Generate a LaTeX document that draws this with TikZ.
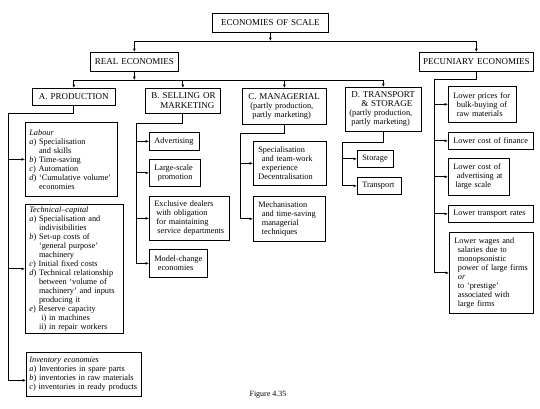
\documentclass[tikz,border=0pt]{standalone}
\usepackage{fontspec}
\setmainfont{Liberation Serif}
\usetikzlibrary{arrows.meta,calc}
\newcommand\bodyfont{\fontsize{8.3}{9}\selectfont}
\newcommand\headfont{\fontsize{9}{10}\selectfont}
\newcommand\myind{\hspace*{3.5pt}}
\newcommand\itm[1]{\textit{#1})\ }
\newcommand\hangsp{\hphantom{\textit{a})\ }}
% #1 options, #2 name, #3 x1, #4 y1, #5 x2, #6 y2, #7 side padding, #8 text
\newcommand\mybox[8][]{%
  \pgfmathsetmacro\bxw{#5-#3}\pgfmathsetmacro\bxh{#6-#4}\pgfmathsetmacro\bxt{#5-#3-2*#7}%
  \node[box,#1,inner xsep=#7pt,minimum width=\bxw pt,minimum height=\bxh pt,text width=\bxt pt] (#2) at (#3,#4) {#8};}
\tikzset{
  box/.style={draw, line width=0.7pt, inner ysep=0pt, anchor=north west, align=left, font=\bodyfont},
  head/.style={font=\headfont, align=center},
  conn/.style={line width=0.8pt},
  arr/.style={conn, -{Latex[length=3.5pt,width=3pt]}}
}
\begin{document}
\begin{tikzpicture}[x=1pt,y=-1pt]
\useasboundingbox (0,0) rectangle (540,408);
% headings
\mybox[head]{eos}{212}{13}{328}{32}{2}{ECONOMIES OF SCALE}
\mybox[head]{real}{90}{52}{178}{71}{2}{REAL ECONOMIES}
\mybox[head]{pec}{419}{52}{533}{71}{1}{PECUNIARY ECONOMIES}
\mybox[head]{A}{32}{88}{115}{105}{2}{A. PRODUCTION}
\mybox[font=\headfont]{B}{145}{88}{220}{113}{4}{\hspace*{2pt}B. SELLING OR\\\hspace*{11pt}MARKETING}
\mybox{C}{242}{88}{326}{124}{4}{{\headfont\hspace*{2pt}C. MANAGERIAL}\\\hspace*{4pt}(partly production,\\\hspace*{6pt}partly marketing)}
\mybox{D}{345}{87}{421}{131}{4}{{\headfont\hspace*{2pt}D. TRANSPORT}\\{\headfont\hspace*{12pt}\& STORAGE}\\(partly production,\\\hspace*{2pt}partly marketing)}
% production column
\mybox{lab}{25}{122}{117}{196}{4}{\textit{Labour}\\\itm{a}Specialisation\\\hangsp and skills\\\itm{b}Time-saving\\\itm{c}Automation\\\itm{d}`Cumulative volume'\\\hangsp economies}
\mybox{tech}{25}{204}{123}{333}{4}{\textit{Technical--capital}\\\itm{a}Specialisation and\\\hangsp indivisibilities\\\itm{b}Set-up costs of\\\hangsp `general purpose'\\\hangsp machinery\\\itm{c}Initial fixed costs\\\itm{d}Technical relationship\\\hangsp between `volume of\\\hangsp machinery' and inputs\\\hangsp producing it\\\itm{e}Reserve capacity\\\hangsp\hphantom{i}i) in machines\\\hangsp ii) in repair workers}
\mybox{inv}{26}{352}{141}{396}{3}{\textit{Inventory economies}\\\itm{a}Inventories in spare parts\\\itm{b}inventories in raw materials\\\itm{c}inventories in ready products}
% selling column
\mybox{adv}{149}{132}{199}{150}{5}{Advertising}
\mybox{lsp}{149}{159}{200}{186}{5}{Large-scale\\\myind promotion}
\mybox{excl}{149}{196}{229}{240}{3}{\hspace*{2pt}Exclusive dealers\\\hspace*{4pt}with obligation\\\hspace*{4pt}for maintaining\\\hspace*{5pt}service departments}
\mybox{model}{149}{249}{207}{277}{5}{Model-change\\\myind economies}
% managerial column
\mybox{spec}{253}{141}{326}{185}{5}{Specialisation\\\myind and team-work\\\myind experience\\Decentralisation}
\mybox{mech}{253}{196}{325}{241}{5}{Mechanisation\\\myind and time-saving\\\myind managerial\\\myind techniques}
% transport column
\mybox{stor}{357}{150}{393}{167}{5}{Storage}
\mybox{trans}{357}{177}{401}{194}{5}{Transport}
% pecuniary column
\mybox{bulk}{448}{86}{516}{122}{5}{Lower prices for\\\myind bulk-buying of\\\myind raw materials}
\mybox{fin}{448}{132}{533}{149}{5}{Lower cost of finance}
\mybox{ladv}{448}{158}{509}{195}{5}{Lower cost of\\\myind advertising at\\\hspace*{2pt}large scale}
\mybox{ltr}{448}{205}{533}{222}{5}{Lower transport rates}
\mybox{wage}{449}{232}{533}{313}{5}{Lower wages and\\\myind salaries due to\\\myind monopsonistic\\\myind power of large firms\\\myind\textit{or}\\\myind to `prestige'\\\myind associated with\\\myind large firms}
% caption
\node[font=\fontsize{8}{9}\selectfont] (cap) at (268,395) {Figure 4.35};
% top connectors
\coordinate (tl) at (0,41);
\coordinate (ml) at (0,80);
\draw[arr] (eos.south) -- (eos.south |- tl);
\draw[conn] (real.north |- tl) -- (pec.north |- tl);
\draw[arr] (real.north |- tl) -- (real.north);
\draw[arr] (pec.north |- tl) -- (pec.north);
\draw[arr] (real.south) -- (real.south |- ml);
\draw[conn] (A.north |- ml) -- (D.north |- ml);
\foreach \n in {A,B,C,D}{\draw[arr] (\n.north |- ml) -- (\n.north);}
% production spine
\coordinate (aS) at (8,113);
\coordinate (invA) at ([yshift=-6pt]inv.west);
\draw[arr] (A.south) |- (aS) |- (invA);
\draw[arr] (aS |- lab.west) -- (lab.west);
\draw[arr] (aS |- tech.west) -- (tech.west);
% selling spine
\coordinate (bS) at (136,123);
\draw[arr] (B.south) |- (bS) |- (model.west);
\foreach \n in {adv,lsp,excl}{\draw[arr] (bS |- \n.west) -- (\n.west);}
% managerial spine
\coordinate (cS) at (240,133);
\draw[arr] (C.south) |- (cS) |- (mech.west);
\draw[arr] (cS |- spec.west) -- (spec.west);
% transport spine
\coordinate (dS) at (342,142);
\draw[arr] (D.south) |- (dS) |- (trans.west);
\draw[arr] (dS |- stor.west) -- (stor.west);
% pecuniary spine
\coordinate (pS) at (434,79);
\draw[arr] (pec.south) |- (pS) |- (wage.west);
\foreach \n in {bulk,fin,ladv,ltr}{\draw[arr] (pS |- \n.west) -- (\n.west);}
\end{tikzpicture}
\end{document}
